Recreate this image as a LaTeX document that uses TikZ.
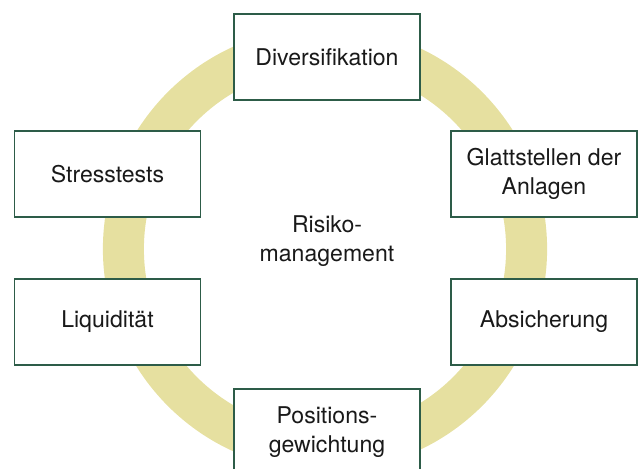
\documentclass[tikz,border=0pt]{standalone}
\usepackage{fontspec}
\setmainfont{TeX Gyre Heros}
\definecolor{ringgelb}{RGB}{230,224,160}
\definecolor{rahmengruen}{RGB}{45,92,72}
\tikzset{
	feld/.style={draw=rahmengruen,line width=.8pt,fill=white,minimum width=4.65cm,minimum height=2.15cm,align=center,font=\fontsize{16.4}{21}\selectfont,text=black!90},
}
\begin{document}
\begin{tikzpicture}
	\useasboundingbox (0,0) rectangle (15.95,11.725);
	\clip (0,0) rectangle (15.95,11.725);
	% ring
	\draw[ringgelb,line width=1.025cm] (8.125,5.5) circle (5.04cm);
	% mitte
	\node[align=center,font=\fontsize{16.4}{21}\selectfont,text=black!90] (rm) at (8.175,5.7) {Risiko-\\management};
	% felder
	\node[feld] (div) at (8.175,10.3) {Diversifikation};
	\node[feld] (glatt) at (13.6,7.375) {Glattstellen der\\Anlagen};
	\node[feld] (abs) at (13.6,3.675) {Absicherung};
	\node[feld] (pos) at (8.175,0.925) {Positions-\\gewichtung};
	\node[feld] (liq) at (2.6875,3.675) {Liquidität};
	\node[feld] (stress) at (2.6875,7.375) {Stresstests};
\end{tikzpicture}
\end{document}
